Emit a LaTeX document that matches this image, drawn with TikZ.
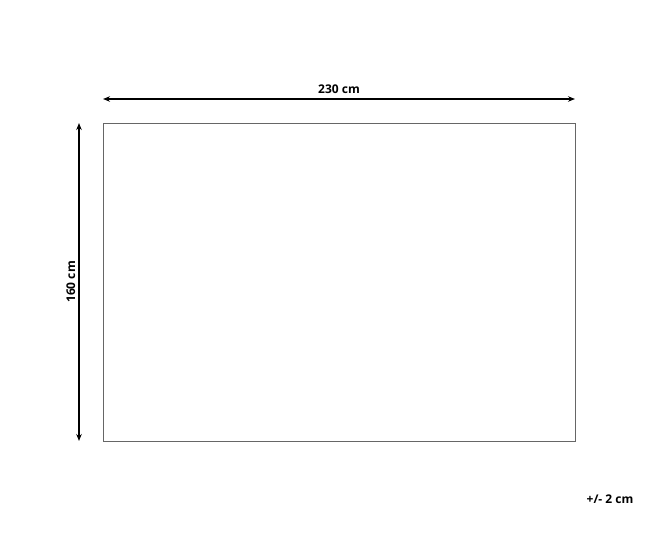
\documentclass[tikz,border=0pt]{standalone}
\usepackage{fontspec}
\setmainfont{Open Sans}
\usetikzlibrary{arrows.meta}
\begin{document}
\begin{tikzpicture}[x=1pt,y=-1pt,
  dim/.style={line width=1.3pt,{Stealth[length=7pt,width=5.5pt]}-{Stealth[length=7pt,width=5.5pt]}},
  lbl/.style={font=\bfseries\fontsize{12}{14}\selectfont,inner sep=0pt}]
\useasboundingbox (0,0) rectangle (650,551);
\node[draw=black!60,line width=0.8pt,minimum width=472pt,minimum height=318pt,inner sep=0pt,anchor=north west] (rug) at (103,123) {};
\coordinate (hl) at (103,99);
\coordinate (hr) at (575,99);
\coordinate (vt) at (79,123);
\coordinate (vb) at (79,441);
\draw[dim] (hl) -- node[lbl,above=5pt] (w) {230 cm} (hr);
\draw[dim] (vt) -- node[lbl,rotate=90,above=3pt] (h) {160 cm} (vb);
\node[lbl] (tol) at (610,499) {+/- 2 cm};
\end{tikzpicture}
\end{document}
